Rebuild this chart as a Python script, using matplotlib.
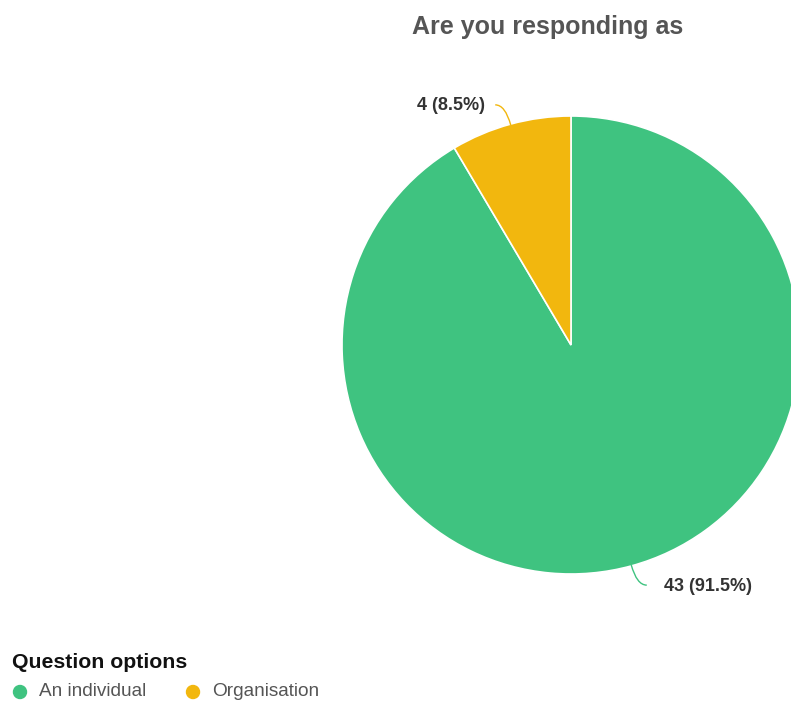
import numpy as np
import matplotlib.pyplot as plt
from matplotlib.path import Path
from matplotlib.patches import PathPatch, Circle

plt.rcParams['font.family'] = ['Liberation Sans', 'DejaVu Sans']

# --- Data ---
categories = ['An individual', 'Organisation']
counts = [43, 4]
colors = ['#3fc380', '#f2b70e']
title = 'Are you responding as'

W, H = 791, 702
fig = plt.figure(figsize=(W / 100, H / 100), dpi=100)
ax = fig.add_axes([0, 0, 1, 1])

cx, cy, r = 571, H - 345, 229
wedges, _ = ax.pie(counts, colors=colors, startangle=90, counterclock=False,
                   center=(cx, cy), radius=r, frame=True,
                   wedgeprops=dict(edgecolor='white', linewidth=1.2))
for w in wedges:
    w.set_clip_on(False)
ax.set_xlim(0, W)
ax.set_ylim(0, H)
ax.set_aspect('equal')
ax.axis('off')

# value labels with small curved leader lines
total = sum(counts)
for w, n in zip(wedges, counts):
    ang = np.deg2rad((w.theta1 + w.theta2) / 2)
    dx, dy = np.cos(ang), np.sin(ang)
    x0, y0 = cx + (r - 1) * dx, cy + (r - 1) * dy
    x1, y1 = cx + (r + 20) * dx, cy + (r + 20) * dy
    side = 1 if dx > 0 else -1
    x2 = x1 + side * 10
    path = Path([(x0, y0), (x1, y1), (x2, y1)],
                [Path.MOVETO, Path.CURVE3, Path.CURVE3])
    ax.add_patch(PathPatch(path, fc='none', ec=w.get_facecolor(), lw=1,
                           clip_on=False))
    gap = 17 if side > 0 else 10
    ax.text(x2 + side * gap, y1 - 1, f'{n} ({n / total * 100:.1f}%)',
            ha='left' if side > 0 else 'right', va='center',
            fontsize=13, fontweight='bold', color='#333333')

ax.text(548, H - 27, title, ha='center', va='center',
        fontsize=18, fontweight='bold', color='#555555')

# legend
ax.text(12, H - 663, 'Question options', ha='left', va='center',
        fontsize=15.3, fontweight='bold', color='#111111')
leg_x = [20, 193]
for lx, lab, c in zip(leg_x, categories, colors):
    ax.add_patch(Circle((lx, H - 692), 6.5, color=c, clip_on=False))
    ax.text(lx + 19, H - 692, lab, ha='left', va='center',
            fontsize=13.7, color='#555555')

fig.savefig('out.png', dpi=100)
